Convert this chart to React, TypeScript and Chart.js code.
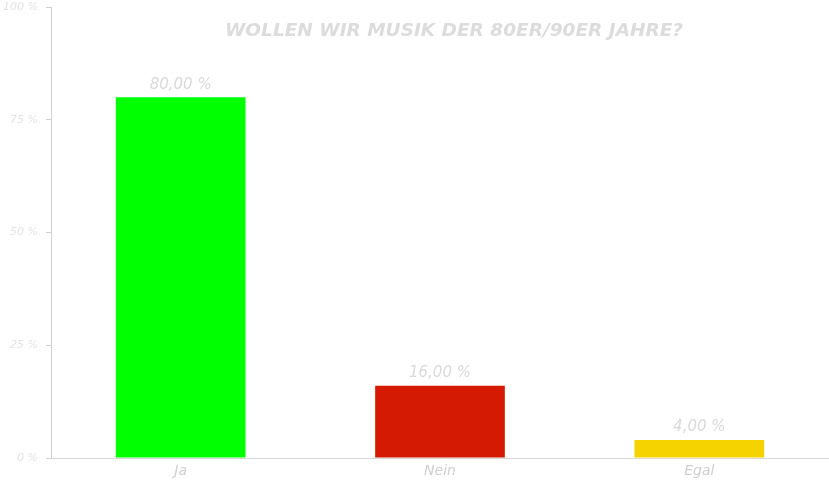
import React, { useEffect, useRef } from "react";
import { Chart, registerables } from "chart.js";

Chart.register(...registerables);

const categories = ["Ja", "Nein", "Egal"];
const values = [80, 16, 4];
const barColors = ["#00ff00", "#d41a03", "#f5d300"];
const titleText = "WOLLEN WIR MUSIK DER 80ER/90ER JAHRE?";
const yTicks = [0, 25, 50, 75, 100];

const FONT = "'DejaVu Sans', sans-serif";

const valueLabels = {
  id: "valueLabels",
  afterDatasetsDraw(chart: any) {
    const ctx = chart.ctx;
    const meta = chart.getDatasetMeta(0);
    ctx.save();
    ctx.fillStyle = "#d9d9d9";
    ctx.font = `italic 15px ${FONT}`;
    ctx.textAlign = "center";
    ctx.textBaseline = "bottom";
    meta.data.forEach((el: any, i: number) => {
      const v = values[i].toFixed(2).replace(".", ",") + " %";
      ctx.fillText(v, el.x, el.y - 5);
    });
    ctx.restore();
  },
};

const overlayTitle = {
  id: "overlayTitle",
  afterDraw(chart: any) {
    const ctx = chart.ctx;
    const area = chart.chartArea;
    ctx.save();
    ctx.fillStyle = "#dcdcdc";
    ctx.font = `italic bold 18.5px ${FONT}`;
    ctx.textAlign = "center";
    ctx.textBaseline = "middle";
    ctx.fillText(titleText, (area.left + area.right) / 2 + 14, area.top + 24);
    ctx.restore();
  },
};

export default function App() {
  const ref = useRef<HTMLCanvasElement>(null);
  useEffect(() => {
    if (!ref.current) return;
    const chart = new Chart(ref.current, {
      type: "bar",
      data: {
        labels: categories,
        datasets: [
          {
            data: values,
            backgroundColor: barColors,
            barPercentage: 0.5,
            categoryPercentage: 1,
          },
        ],
      },
      options: {
        animation: false,
        responsive: true,
        maintainAspectRatio: false,
        layout: { padding: 0 },
        plugins: {
          legend: { display: false },
          tooltip: { enabled: false },
          title: { display: false },
        },
        scales: {
          y: {
            min: 0,
            max: 100,
            afterBuildTicks: (axis: any) => {
              axis.ticks = yTicks.map((v) => ({ value: v }));
            },
            afterFit: (axis: any) => {
              axis.width = 51;
              axis.paddingTop = 7;
              axis.paddingBottom = 0;
            },
            ticks: {
              color: "#e3e3e3",
              font: { family: FONT, size: 11, style: "italic" },
              callback: (v: any) => v + " %",
              padding: 8,
            },
            grid: {
              drawOnChartArea: false,
              drawTicks: true,
              tickLength: 5,
              color: "#d0d0d0",
            },
            border: { display: true, color: "#d0d0d0" },
          },
          x: {
            afterFit: (axis: any) => {
              axis.height = 22;
            },
            ticks: {
              color: "#cfcfcf",
              font: { family: FONT, size: 14, style: "italic" },
              padding: 5,
            },
            grid: { drawOnChartArea: false, drawTicks: false },
            border: { display: true, color: "#d8d8d8" },
          },
        },
      },
      plugins: [valueLabels, overlayTitle],
    });
    return () => chart.destroy();
  }, []);
  return (
    <div style={{ position: "absolute", left: 0, top: 0, width: 829, height: 480 }}>
      <canvas ref={ref} />
    </div>
  );
}
